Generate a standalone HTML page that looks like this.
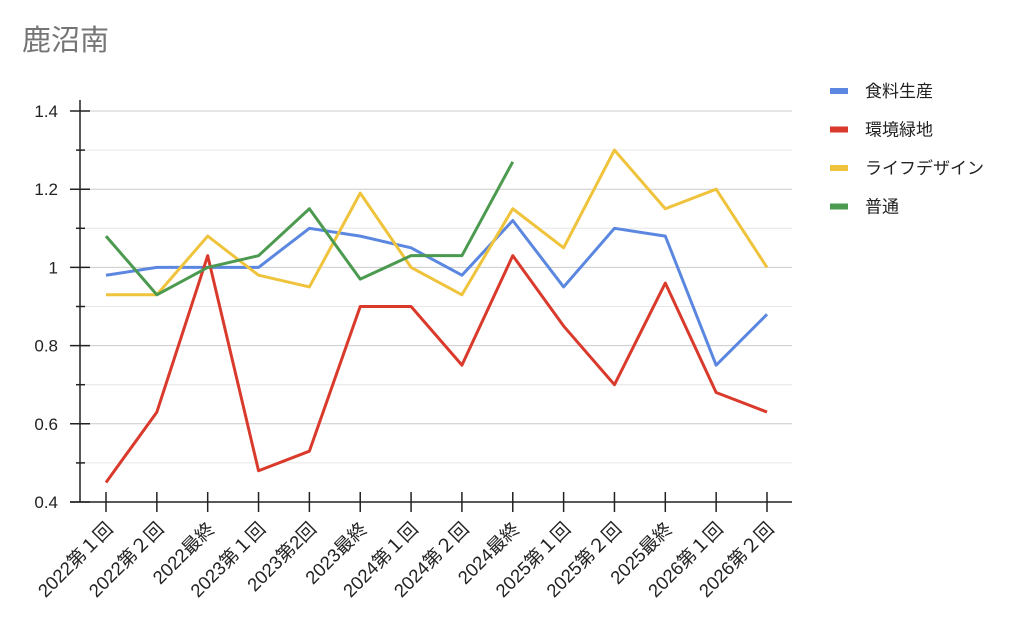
<!DOCTYPE html>
<html><head><meta charset="utf-8"><style>
body{margin:0;background:#fff;width:1024px;height:629px;overflow:hidden;font-family:"Liberation Sans","Noto Sans CJK JP",sans-serif}
</style></head><body>
<svg id="c" width="1024" height="629" xmlns="http://www.w3.org/2000/svg">
<text x="22" y="50" font-size="29" fill="#757575" font-family="Liberation Sans, Noto Sans CJK JP, sans-serif">鹿沼南</text>
</svg>
<script>
const categories=["2022第１回","2022第２回","2022最終","2023第１回","2023第2回","2023最終","2024第１回","2024第２回","2024最終","2025第１回","2025第２回","2025最終","2026第１回","2026第２回"];
const seriesNames=["食料生産","環境緑地","ライフデザイン","普通"];
const seriesColors=["#5b87e0","#d93a2b","#efc33c","#4c9a50"];
const food=[0.98,1.00,1.00,1.00,1.10,1.08,1.05,0.98,1.12,0.95,1.10,1.08,0.75,0.88];
const green=[0.45,0.63,1.03,0.48,0.53,0.90,0.90,0.75,1.03,0.85,0.70,0.96,0.68,0.63];
const life=[0.93,0.93,1.08,0.98,0.95,1.19,1.00,0.93,1.15,1.05,1.30,1.15,1.20,1.00];
const normal=[1.08,0.93,1.00,1.03,1.15,0.97,1.03,1.03,1.27,null,null,null,null,null];
const majorTicks=[0.4,0.6,0.8,1.0,1.2,1.4];
const majorLabels=["0.4","0.6","0.8","1","1.2","1.4"];
const minorTicks=[0.5,0.7,0.9,1.1,1.3];
const svg=document.getElementById('c');const NS="http://www.w3.org/2000/svg";
const X0=80,X1=792,Y0=502,Y1=111,vmin=0.4,vmax=1.4;
const xs=i=>106+i*(767-106)/(categories.length-1);
const ys=v=>Y0-(v-vmin)/(vmax-vmin)*(Y0-Y1);
function mk(t,a){const e=document.createElementNS(NS,t);for(const k in a)e.setAttribute(k,a[k]);svg.appendChild(e);return e;}
minorTicks.forEach(v=>{const g=mk('line',{x1:X0,x2:X1,y1:ys(v),y2:ys(v),stroke:'#e6e6e6','stroke-width':1});


const t=mk('line',{x1:X0-4,x2:X0+5,y1:ys(v),y2:ys(v),stroke:'#222','stroke-width':1.5});

});
majorTicks.forEach((v,i)=>{if(i>0){const g=mk('line',{x1:X0,x2:X1,y1:ys(v),y2:ys(v),stroke:'#ccc','stroke-width':1});

}
const t=mk('line',{x1:X0-10,x2:X0+10,y1:ys(v),y2:ys(v),stroke:'#222','stroke-width':1.5});


const l=mk('text',{x:X0-22,y:ys(v)+6,'text-anchor':'end','font-size':17,fill:'#222'});l.textContent=majorLabels[i];

});
const ya=mk('line',{x1:X0,x2:X0,y1:100,y2:Y0,stroke:'#222','stroke-width':1.5});


const xa=mk('line',{x1:X0-10,x2:X1,y1:Y0,y2:Y0,stroke:'#222','stroke-width':1.5});


categories.forEach((c,i)=>{const x=xs(i);const t=mk('line',{x1:x,x2:x,y1:Y0-10,y2:Y0+10,stroke:'#222','stroke-width':1.5});


const l=mk('text',{x:x+8,y:Y0+28,'text-anchor':'end','font-size':18.5,fill:'#222',transform:`rotate(-45 ${x+8} ${Y0+28})`});l.textContent=c;

});
[food,green,life,normal].forEach((arr,s)=>{let d='';arr.forEach((v,i)=>{if(v==null)return;d+=(d?'L':'M')+xs(i)+' '+ys(v);});
const p=mk('path',{d:d,fill:'none',stroke:seriesColors[s],'stroke-width':3,'stroke-linejoin':'round'});


const y=91+s*38.5;
const m=mk('line',{x1:830,x2:848,y1:y,y2:y,stroke:seriesColors[s],'stroke-width':6});


const t=mk('text',{x:865,y:y+6,'font-size':17,fill:'#222'});t.textContent=seriesNames[s];

});
</script>
</body></html>
